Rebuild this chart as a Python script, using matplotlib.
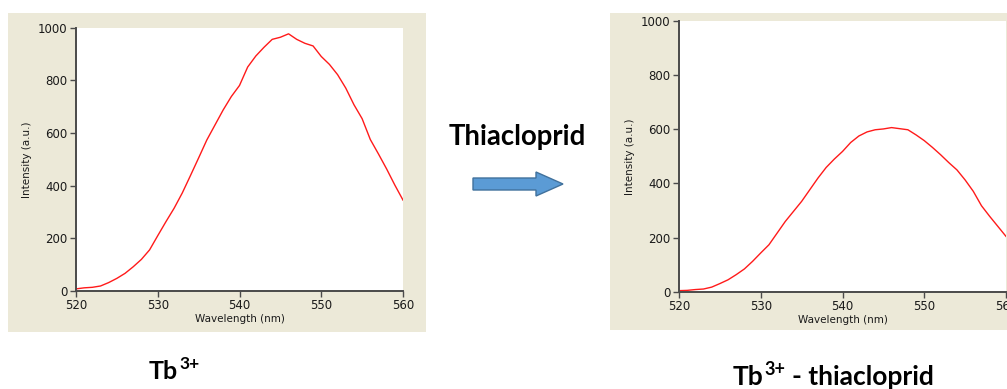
import matplotlib
matplotlib.use("Agg")
import matplotlib.pyplot as plt
from matplotlib.patches import Rectangle, Polygon

# Emission spectra of Tb3+ before and after addition of thiacloprid
wavelength = list(range(520, 561))
tb_intensity = [8, 12, 14, 19, 32, 48, 67, 92, 120, 156, 210, 263, 314, 372, 438,
                505, 573, 630, 687, 738, 780, 850, 892, 925, 955, 963, 976, 955,
                940, 930, 890, 860, 821, 770, 707, 654, 575, 520, 463, 402, 345]
tb_thia_intensity = [5, 6, 9, 11, 18, 31, 45, 64, 85, 113, 144, 174, 217, 260, 297,
                     334, 377, 420, 459, 490, 518, 551, 575, 590, 598, 601, 606, 602,
                     598, 579, 558, 533, 506, 477, 450, 413, 371, 318, 279, 242, 205]

x_ticks = [520, 530, 540, 550, 560]
y_ticks = [0, 200, 400, 600, 800, 1000]
x_label = "Wavelength (nm)"
y_label = "Intensity (a.u.)"
reagent = "Thiacloprid"
ion = "Tb"
charge = "3+"
complex_suffix = "- thiacloprid"

W, H = 1007, 389
fig = plt.figure(figsize=(W / 100, H / 100), dpi=100)
fig.patch.set_facecolor("white")

BEIGE = "#ECE9D8"
SPINE = "#4a4a4a"
BOLD = dict(fontweight="bold", family="Lato", color="black")


def px_rect(x0, y0, x1, y1):
    """Convert a pixel box (top-left origin) to figure fractions."""
    return [x0 / W, (H - y1) / H, (x1 - x0) / W, (y1 - y0) / H]


# Panel backgrounds
for box in [(8, 13, 426, 332), (610, 13, 1007, 330)]:
    l, b, w, h = px_rect(*box)
    fig.patches.append(Rectangle((l, b), w, h, transform=fig.transFigure,
                                 facecolor=BEIGE, edgecolor="none", zorder=-10))


def spectrum_axes(rect, y):
    ax = fig.add_axes(rect)
    ax.plot(wavelength, y, color="#ff1a1a", lw=1.0)
    ax.set_xlim(520, 560)
    ax.set_ylim(0, 1000)
    ax.set_xticks(x_ticks)
    ax.set_yticks(y_ticks)
    ax.set_facecolor("white")
    for s in ("top", "right"):
        ax.spines[s].set_visible(False)
    for s in ("left", "bottom"):
        ax.spines[s].set_color(SPINE)
        ax.spines[s].set_linewidth(1.4)
    ax.tick_params(axis="both", direction="out", length=4.5, width=1.0,
                   color=SPINE, labelsize=8.5, labelcolor="#1a1a1a", pad=1.5)
    ax.set_xlabel(x_label, fontsize=7.5, color="#1a1a1a", labelpad=1)
    ax.set_ylabel(y_label, fontsize=7.5, color="#1a1a1a", labelpad=4)
    return ax


ax1 = spectrum_axes(px_rect(76, 27.5, 403, 291), tb_intensity)
ax2 = spectrum_axes(px_rect(679, 20.7, 1006, 292), tb_thia_intensity)

# Right panel is cropped at its lower edge
l, b, w, h = px_rect(600, 330, 1007, 389)
fig.patches.append(Rectangle((l, b), w, h, transform=fig.transFigure,
                             facecolor="white", edgecolor="none", zorder=10))

# Reaction arrow with reagent name
arrow_px = [(473, 178), (536, 178), (536, 172), (563, 184),
            (536, 196), (536, 190), (473, 190)]
fig.patches.append(Polygon([(x / W, 1 - y / H) for x, y in arrow_px],
                           closed=True, transform=fig.transFigure,
                           facecolor="#5B9BD5", edgecolor="#41719C", lw=1.0,
                           zorder=5))
fig.text(517.5 / W, 1 - 145 / H, reagent, ha="center", va="baseline",
         fontsize=19.8, **BOLD)

renderer = fig.canvas.get_renderer()


def caption(x_px, base_px, pieces):
    """Lay out text pieces left to right; each piece is (text, size, rise, gap)."""
    x = x_px
    for text, size, rise, gap in pieces:
        x += gap
        t = fig.text(x / W, 1 - (base_px - rise) / H, text, ha="left",
                     va="baseline", fontsize=size, zorder=11, **BOLD)
        x += t.get_window_extent(renderer).width


caption(149, 379, [(ion, 18, 0, 0), (charge, 12.5, 10, 1)])
caption(733, 385, [(ion, 19, 0, 0), (charge, 13, 10, 1),
                   (complex_suffix, 19, 0, 6)])

fig.savefig("out.png", dpi=100)
